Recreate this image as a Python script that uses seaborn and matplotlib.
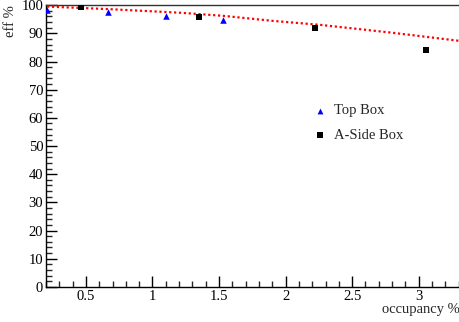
import matplotlib
matplotlib.use("Agg")
import matplotlib.pyplot as plt
from matplotlib.ticker import MultipleLocator
import seaborn as sns
import pandas as pd

# Data
top_x = [0.21, 0.665, 1.10, 1.53]
top_y = [98.2, 97.5, 96.1, 94.7]
aside_x = [0.465, 1.35, 2.22, 3.055]
aside_y = [99.3, 95.8, 91.8, 84.0]
fit_x = [0.208, 0.665, 1.212, 1.534, 1.908, 2.26, 2.785, 3.31]
fit_y = [99.5, 98.6, 97.3, 96.2, 94.4, 93.0, 90.3, 87.3]

sns.set_style("ticks")
plt.rcParams["font.family"] = ["Liberation Serif", "DejaVu Serif"]

fig = plt.figure(figsize=(4.6, 3.22), dpi=100)
ax = fig.add_axes([0.1, 0.109, 0.9, 0.875])

fit_df = pd.DataFrame({"x": fit_x, "y": fit_y})
sns.lineplot(data=fit_df, x="x", y="y", ax=ax, color="red", lw=1.6,
             linestyle=(0, (1.0, 1.2)), sort=False, zorder=3)

top_df = pd.DataFrame({"x": top_x, "y": top_y})
aside_df = pd.DataFrame({"x": aside_x, "y": aside_y})
sns.scatterplot(data=top_df, x="x", y="y", ax=ax, marker="^", color="blue",
                s=22, edgecolor="blue", linewidth=0, label="Top Box", zorder=4)
sns.scatterplot(data=aside_df, x="x", y="y", ax=ax, marker="s", color="black",
                s=18, edgecolor="black", linewidth=0, label="A-Side Box", zorder=4)

ax.set_xlim(0.2, 3.31)
ax.set_ylim(0, 100)
ax.xaxis.set_major_locator(MultipleLocator(0.5))
ax.xaxis.set_minor_locator(MultipleLocator(0.1))
ax.yaxis.set_major_locator(MultipleLocator(10))
ax.yaxis.set_minor_locator(MultipleLocator(2))
ax.xaxis.set_major_formatter(matplotlib.ticker.FuncFormatter(lambda v, p: f"{v:g}"))
ax.tick_params(axis="both", which="major", direction="in", length=8, width=1,
               labelsize=10.5, pad=2, colors="black")
ax.tick_params(axis="both", which="minor", direction="in", length=4, width=1)
ax.tick_params(axis="x", which="both", top=False)
ax.tick_params(axis="y", which="both", right=False)

for side in ["left", "bottom", "top"]:
    ax.spines[side].set_linewidth(1.0)
    ax.spines[side].set_color("black")
ax.spines["right"].set_visible(False)
ax.spines["top"].set_visible(True)
ax.spines["top"].set_color("#333333")

ax.set_xlabel("occupancy %", fontsize=10.5, loc="right", labelpad=0)
ax.set_ylabel("eff %", fontsize=10.5, loc="top", labelpad=3)

leg = ax.legend(loc="upper left", bbox_to_anchor=(0.61, 0.695), frameon=False,
                fontsize=10.5, handletextpad=0.3, labelspacing=0.75,
                handlelength=1.2, markerscale=0.9)

fig.savefig("out.png", dpi=100)
